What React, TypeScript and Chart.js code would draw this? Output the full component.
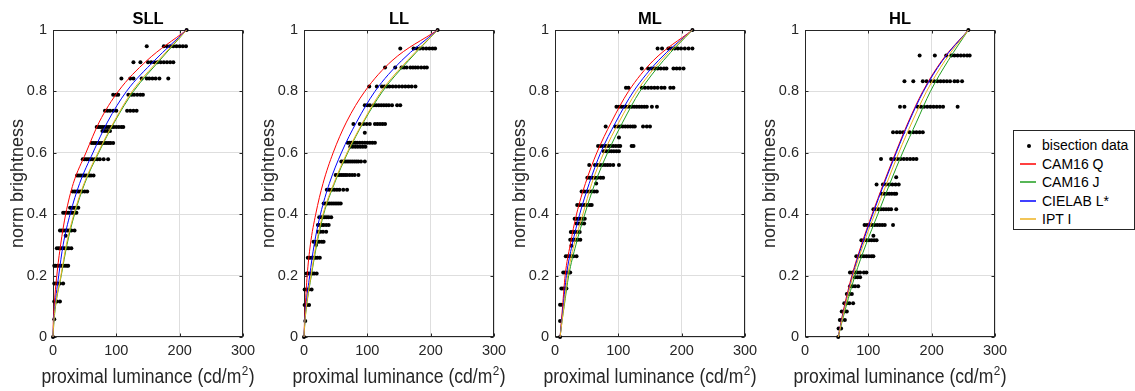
import React, { useEffect, useRef } from "react";
import { Chart, registerables } from "chart.js";

Chart.register(...registerables);

const FONT = "'Liberation Sans', Arial, Helvetica, sans-serif";

// ---------- tick labels ----------
const xTicks = [0, 100, 200, 300];
const xTickLabels = ["0", "100", "200", "300"];
const yTicks = [0, 0.2, 0.4, 0.6, 0.8, 1];
const yTickLabels = ["0", "0.2", "0.4", "0.6", "0.8", "1"];
// x label: main text, superscript, closing text
const xLabelParts = ["proximal luminance (cd/m", "2", ")"];
const yLabel = "norm brightness";

// ---------- series names ----------
const dataName = "bisection data";
const modelNames = ["CAM16 Q", "CAM16 J", "CIELAB L*", "IPT I"];

// ---------- model curves: x (luminance) at each brightness level ----------
const curveLevels = [0, 0.05, 0.1, 0.2, 0.3, 0.4, 0.5, 0.6, 0.7, 0.8, 0.9, 1];

const sllCam16Q = [0, 0.5, 1.8, 6, 12, 20, 32, 52, 73, 103, 148, 211];
const sllCam16J = [0, 1.5, 4, 13, 22, 34, 50, 72, 97, 127, 168, 211];
const sllCielab = [0, 1, 3, 9, 16, 27, 42, 63, 86, 116, 160, 211];
const sllIpt = [0, 1.3, 3.7, 12.5, 21, 33, 49, 71, 96, 125, 166, 211];

const llCam16Q = [0, 0.8, 2, 5, 10, 18.5, 30, 46, 67, 96, 139, 211];
const llCam16J = [0, 1.5, 4, 11.6, 20, 31, 48, 69, 94, 124, 165, 211];
const llCielab = [0, 1.2, 3, 9, 16, 26, 40, 59, 83, 112, 154, 211];
const llIpt = [0, 1.4, 3.8, 11, 19, 30, 47, 68, 93, 122, 163, 211];

const mlCam16Q = [8, 10, 12, 16, 24, 34, 48, 66, 89, 116, 155, 217];
const mlCam16J = [8, 11, 14.5, 21.6, 33, 47, 63, 83, 107, 134, 171, 217];
const mlCielab = [8, 10.5, 13, 18, 27, 39, 54, 72, 96, 124, 163, 217];
const mlIpt = [8, 11, 14, 20, 30, 44, 58, 77, 101, 129, 167, 217];

const hlCam16Q = [52.5, 57, 62, 74, 89, 106, 124, 143, 163, 186, 216, 258];
const hlCam16J = [52.5, 58.5, 65, 79, 96, 115, 134, 154, 176, 198, 226, 258];
const hlCielab = [52.5, 57.5, 63, 75, 90, 107, 125, 144, 164, 187, 217, 258];
const hlIpt = [52.5, 58, 63.5, 76, 92, 110, 129, 148, 169, 192, 221, 258];

// ---------- bisection data: brightness levels and luminances per level ----------
const sllLevels = [1, 0.947, 0.895, 0.842, 0.789, 0.737, 0.684, 0.671, 0.632, 0.579, 0.526, 0.474, 0.421, 0.405, 0.347, 0.33, 0.289, 0.232, 0.174, 0.116, 0.058, 0];
const sllX = [
  [211],
  [148, 175, 180, 185, 190, 195, 200, 205, 210],
  [127, 138, 150, 155, 160, 165, 170, 175, 180, 185, 190],
  [108, 122, 127, 140, 148, 152, 157, 162, 168, 182],
  [95, 100, 103, 119, 124, 128, 133, 138, 142],
  [82, 86, 90, 95, 100, 117, 122, 127, 132],
  [69, 72, 75, 78, 81, 84, 87, 90, 93, 96, 100, 104, 108, 111],
  [78, 82, 86, 90],
  [61, 64, 67, 70, 73, 76, 79, 82, 85, 88, 91, 95],
  [47, 50, 53, 56, 59, 62, 66, 70, 74, 80, 87],
  [38, 41, 44, 47, 50, 53, 57, 60, 64],
  [31, 34, 37, 40, 43, 46, 50, 54],
  [27, 30, 33, 36, 40],
  [16, 19, 22, 25, 28, 31, 34, 37],
  [11, 14, 17, 20, 23, 26, 29, 34],
  [20],
  [6, 9, 12, 15, 18, 22, 25, 29],
  [2, 4, 7, 10, 13, 16, 19, 22, 24],
  [2, 5, 8, 11, 16],
  [2, 6, 11],
  [2],
  [0],
];

const llLevels = [1, 0.94, 0.878, 0.816, 0.755, 0.694, 0.665, 0.633, 0.62, 0.572, 0.528, 0.48, 0.435, 0.39, 0.365, 0.343, 0.31, 0.3, 0.258, 0.207, 0.155, 0.104, 0.052, 0];
const llX = [
  [211],
  [152, 173, 178, 183, 188, 193, 198, 203, 207],
  [128, 144, 154, 158, 162, 168, 172, 176, 180, 185, 190, 194],
  [103, 115, 123, 127, 131, 135, 140, 145, 150, 155, 160, 165, 170, 176],
  [96, 100, 104, 110, 114, 118, 122, 126, 130, 134, 139, 147, 152],
  [78, 88, 94, 99, 104, 112, 116, 120, 124, 128],
  [96],
  [69, 72, 75, 78, 81, 84, 88, 92, 96, 100, 104, 108, 112],
  [73, 77, 81, 85, 89, 93, 97],
  [59, 62, 65, 68, 71, 74, 77, 80, 83, 86, 90, 96],
  [50, 53, 56, 59, 62, 65, 68, 72, 76, 80, 86],
  [36, 40, 44, 48, 52, 56, 62, 68],
  [31, 34, 37, 40, 43, 46, 49, 52, 55, 58],
  [24, 27, 30, 33, 36, 39, 43],
  [22, 25, 28, 31, 35, 39],
  [22, 26, 30, 35],
  [15, 18, 21, 24, 28, 31],
  [19],
  [6, 9, 12, 15, 18, 21, 25],
  [4, 7, 10, 13, 16, 20],
  [1, 4, 7, 12],
  [1, 4, 8],
  [2],
  [0],
];

const mlLevels = [1, 0.94, 0.875, 0.812, 0.75, 0.686, 0.65, 0.622, 0.605, 0.56, 0.519, 0.5, 0.474, 0.43, 0.385, 0.37, 0.342, 0.317, 0.297, 0.263, 0.21, 0.158, 0.105, 0.052, 0];
const mlX = [
  [217],
  [162, 169, 179, 184, 189, 194, 199, 205, 211, 217],
  [137, 147, 152, 157, 162, 167, 172, 176, 187, 192, 197, 203],
  [112, 116, 137, 142, 147, 152, 157, 162, 168, 173, 182, 187],
  [97, 101, 105, 109, 113, 117, 121, 125, 129, 133, 137, 141, 145, 153, 161],
  [80, 95, 99, 103, 107, 111, 115, 119, 123, 126, 139, 145, 150],
  [101],
  [68, 72, 76, 80, 84, 88, 92, 96, 100, 103, 121, 124],
  [77, 81, 85, 89, 93, 97, 101],
  [54, 63, 67, 71, 75, 79, 83, 87, 92, 101],
  [51, 55, 59, 63, 67, 72, 76],
  [65],
  [42, 46, 50, 54, 58, 62, 66],
  [35, 39, 43, 47, 51, 55, 58],
  [31, 34, 37, 40, 44, 47],
  [34, 38, 42, 46],
  [25, 28, 31, 35, 39],
  [24, 27, 30, 33, 36, 40],
  [26],
  [17, 20, 23, 26, 29, 34],
  [13, 16, 19, 22, 24],
  [10, 13, 16, 18],
  [8, 11],
  [8],
  [8],
];

const hlLevels = [1, 0.917, 0.833, 0.75, 0.667, 0.58, 0.52, 0.497, 0.467, 0.416, 0.365, 0.33, 0.315, 0.263, 0.21, 0.195, 0.165, 0.14, 0.11, 0.083, 0.055, 0.028, 0];
const hlX = [
  [258],
  [181, 205, 223, 231, 236, 241, 246, 251, 256, 260],
  [157, 171, 186, 192, 199, 204, 209, 214, 219, 224, 229, 236, 241, 248],
  [150, 157, 178, 183, 188, 193, 198, 203, 208, 213, 218, 241],
  [139, 145, 150, 155, 165, 171, 176, 181, 186],
  [120, 136, 141, 146, 151, 156, 161, 166, 171, 176],
  [144],
  [113, 123, 128, 133, 138, 143, 148],
  [121, 125, 129, 133, 137, 141, 144],
  [108, 112, 116, 120, 124, 128, 132, 136, 144],
  [94, 98, 102, 106, 110, 114, 118, 122, 126, 139],
  [108],
  [89, 93, 97, 101, 105, 109, 113],
  [81, 85, 89, 93, 97, 101, 105, 108],
  [71, 75, 79, 83, 87, 93, 97],
  [79, 83, 87],
  [71, 75, 79, 84],
  [66, 70, 74],
  [62, 66, 70, 76],
  [58, 62, 66],
  [55, 58, 63],
  [53, 57],
  [52.5],
];

// ---------- styles ----------
const modelColors = ["#ff0000", "#1f9e1f", "#0000ff", "#edb120"];
const modelOrder = [4, 3, 2, 1];
const AXIS_COLOR = "#262626";
const GRID_COLOR = "#dedede";

const panels = [
  { title: "SLL", left: 0, levels: sllLevels, xs: sllX, curves: [sllCam16Q, sllCam16J, sllCielab, sllIpt] },
  { title: "LL", left: 251, levels: llLevels, xs: llX, curves: [llCam16Q, llCam16J, llCielab, llIpt] },
  { title: "ML", left: 502, levels: mlLevels, xs: mlX, curves: [mlCam16Q, mlCam16J, mlCielab, mlIpt] },
  { title: "HL", left: 752, levels: hlLevels, xs: hlX, curves: [hlCam16Q, hlCam16J, hlCielab, hlIpt] },
];

const Y_AXIS_W = 53;
const PLOT_W = 190;
const RIGHT_PAD = 22;
const CANVAS_W = Y_AXIS_W + PLOT_W + RIGHT_PAD;
const CANVAS_H = 391;
const XLABEL_BASELINE = 383;
const XLABEL_SIZE = 19.5;
const XLABEL_SUP_SIZE = 13;
const XLABEL_SQUEEZE = 0.9;

const boxPlugin = {
  id: "matlabBox",
  beforeDatasetsDraw(chart: any) {
    const { ctx, chartArea } = chart;
    const l = Math.round(chartArea.left) + 0.5;
    const r = Math.round(chartArea.right) - 0.5;
    const t = Math.round(chartArea.top) + 0.5;
    const b = Math.round(chartArea.bottom) - 0.5;
    ctx.save();
    ctx.strokeStyle = AXIS_COLOR;
    ctx.lineWidth = 1;
    ctx.strokeRect(l, t, r - l, b - t);
    const xs = chart.scales.x;
    const ys = chart.scales.y;
    ctx.beginPath();
    xs.ticks.forEach((tk: any) => {
      const p = Math.round(xs.getPixelForValue(tk.value)) + 0.5;
      ctx.moveTo(p, b);
      ctx.lineTo(p, b - 3);
      ctx.moveTo(p, t);
      ctx.lineTo(p, t + 3);
    });
    ys.ticks.forEach((tk: any) => {
      const p = Math.round(ys.getPixelForValue(tk.value)) + 0.5;
      ctx.moveTo(l, p);
      ctx.lineTo(l + 3, p);
      ctx.moveTo(r, p);
      ctx.lineTo(r - 3, p);
    });
    ctx.stroke();
    ctx.restore();
  },
  afterDraw(chart: any) {
    // x-axis label with a real superscript
    const { ctx, chartArea } = chart;
    const cx = (chartArea.left + chartArea.right) / 2;
    const mainFont = `normal ${XLABEL_SIZE}px ${FONT}`;
    const supFont = `normal ${XLABEL_SUP_SIZE}px ${FONT}`;
    ctx.save();
    ctx.fillStyle = AXIS_COLOR;
    ctx.textBaseline = "alphabetic";
    ctx.textAlign = "left";
    ctx.font = mainFont;
    const w0 = ctx.measureText(xLabelParts[0]).width;
    const w2 = ctx.measureText(xLabelParts[2]).width;
    ctx.font = supFont;
    const w1 = ctx.measureText(xLabelParts[1]).width;
    const total = w0 + w1 + w2 + 1;
    ctx.translate(cx, XLABEL_BASELINE);
    ctx.scale(XLABEL_SQUEEZE, 1);
    let x = -total / 2;
    ctx.font = mainFont;
    ctx.fillText(xLabelParts[0], x, 0);
    x += w0 + 0.5;
    ctx.font = supFont;
    ctx.fillText(xLabelParts[1], x, -8);
    x += w1 + 0.5;
    ctx.font = mainFont;
    ctx.fillText(xLabelParts[2], x, 0);
    ctx.restore();
  },
};

function Panel({ panel }: { panel: any }) {
  const ref = useRef<HTMLCanvasElement>(null);
  useEffect(() => {
    if (!ref.current) return;
    const scatter = panel.levels.flatMap((lv: number, i: number) =>
      panel.xs[i].map((x: number) => ({ x, y: lv }))
    );
    const curveSets = panel.curves.map((c: number[], k: number) => ({
      label: modelNames[k],
      data: curveLevels.map((lv, i) => ({ x: c[i], y: lv })),
      showLine: true,
      borderColor: modelColors[k],
      backgroundColor: modelColors[k],
      borderWidth: 1,
      pointRadius: 0,
      pointHoverRadius: 0,
      cubicInterpolationMode: "monotone",
      fill: false,
      clip: false,
      order: modelOrder[k],
    }));
    const chart = new Chart(ref.current, {
      type: "scatter",
      data: {
        datasets: [
          {
            label: dataName,
            data: scatter,
            pointRadius: 2,
            pointBorderWidth: 0,
            backgroundColor: "#000",
            borderColor: "#000",
            clip: false,
            order: 10,
          } as any,
          ...curveSets,
        ],
      },
      options: {
        responsive: false,
        animation: false,
        events: [],
        layout: { padding: { left: 0, right: RIGHT_PAD, top: 0, bottom: 0 } },
        plugins: {
          legend: { display: false },
          tooltip: { enabled: false },
          title: {
            display: true,
            text: panel.title,
            fullSize: false,
            color: "#000",
            font: { size: 16.5, weight: "bold", family: FONT },
            padding: { top: 9.3, bottom: 0.9 },
          },
        },
        scales: {
          x: {
            type: "linear",
            min: xTicks[0],
            max: xTicks[xTicks.length - 1],
            afterBuildTicks: (s: any) => {
              s.ticks = xTicks.map((v) => ({ value: v }));
            },
            afterFit: (s: any) => {
              s.height = 54;
            },
            ticks: {
              padding: 5,
              color: AXIS_COLOR,
              font: { size: 14.5, family: FONT },
              callback: (_v: any, i: number) => xTickLabels[i],
            },
            grid: { color: GRID_COLOR, drawTicks: false, lineWidth: 1 },
            border: { display: false },
            title: { display: false },
          },
          y: {
            type: "linear",
            min: yTicks[0],
            max: yTicks[yTicks.length - 1],
            afterBuildTicks: (s: any) => {
              s.ticks = yTicks.map((v) => ({ value: v }));
            },
            afterFit: (s: any) => {
              s.width = Y_AXIS_W;
            },
            ticks: {
              padding: 6,
              color: AXIS_COLOR,
              font: { size: 14.5, family: FONT },
              callback: (_v: any, i: number) => yTickLabels[i],
            },
            grid: { color: GRID_COLOR, drawTicks: false, lineWidth: 1 },
            border: { display: false },
            title: {
              display: true,
              text: yLabel,
              color: AXIS_COLOR,
              font: { size: 18, family: FONT },
              padding: { top: 7, bottom: 0 },
            },
          },
        },
      } as any,
      plugins: [boxPlugin],
    });
    return () => chart.destroy();
  }, [panel]);
  return (
    <canvas
      ref={ref}
      width={CANVAS_W}
      height={CANVAS_H}
      style={{ position: "absolute", left: panel.left, top: 0, width: CANVAS_W, height: CANVAS_H }}
    />
  );
}

function Legend() {
  const rowTop = [5, 24, 42, 61, 79];
  const entries = [dataName, ...modelNames];
  return (
    <div
      style={{
        position: "absolute",
        left: 1013,
        top: 130,
        width: 122,
        height: 100,
        border: `1px solid ${AXIS_COLOR}`,
        background: "#fff",
        boxSizing: "border-box",
        fontFamily: FONT,
        fontSize: 14,
        color: "#000",
      }}
    >
      {entries.map((name, i) => (
        <div key={name} style={{ position: "absolute", left: 0, top: rowTop[i], height: 18, width: 120 }}>
          {i === 0 ? (
            <div
              style={{
                position: "absolute",
                left: 13,
                top: 8,
                width: 4,
                height: 4,
                borderRadius: 2,
                background: "#000",
              }}
            />
          ) : (
            <div
              style={{
                position: "absolute",
                left: 6,
                top: 8,
                width: 16,
                height: 2,
                opacity: 0.75,
                background: modelColors[i - 1],
              }}
            />
          )}
          <span style={{ position: "absolute", left: 28, top: 0, lineHeight: "18px", whiteSpace: "nowrap" }}>{name}</span>
        </div>
      ))}
    </div>
  );
}

export default function App() {
  return (
    <div style={{ position: "absolute", left: 0, top: 0, width: 1135, height: 391, background: "#fff", overflow: "hidden" }}>
      {panels.map((p) => (
        <Panel key={p.title} panel={p} />
      ))}
      <Legend />
    </div>
  );
}
